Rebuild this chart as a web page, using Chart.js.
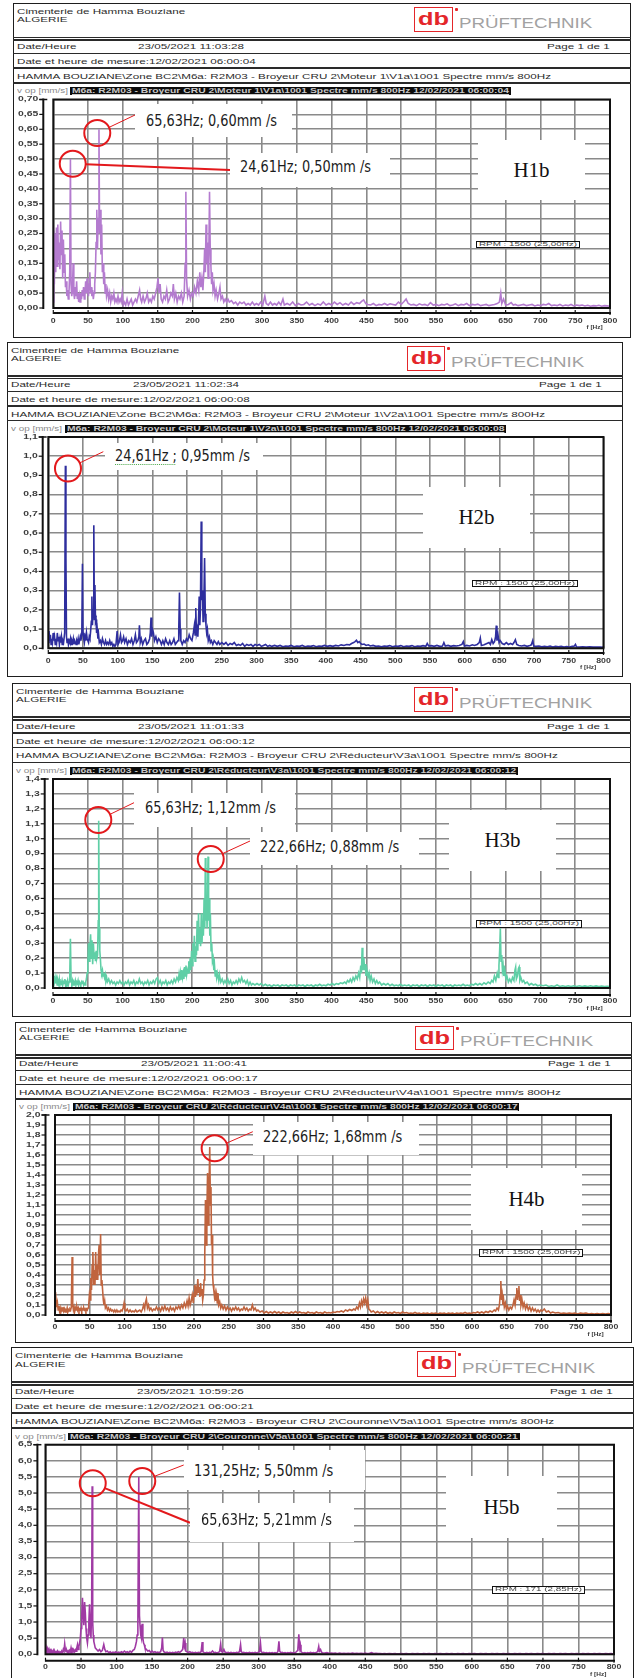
<!DOCTYPE html>
<html><head><meta charset="utf-8"><title>Spectres H1b-H5b</title>
<script src="https://cdn.jsdelivr.net/npm/chart.js@4.4.1/dist/chart.umd.min.js"></script>
<style>
html,body{margin:0;padding:0;background:#fff}
body{position:relative;width:636px;height:1678px;overflow:hidden;font-family:"Liberation Sans",Arial,Helvetica,sans-serif}
.frame{position:absolute;box-sizing:border-box;border:1.6px solid #1e1e1e}
.hl{position:absolute;height:1.4px;background:#2a2a2a}
.t{position:absolute;white-space:nowrap;font-size:8px;line-height:8px;color:#2b2b2b;transform-origin:0 50%}
.t.g{color:#8a8a8a;font-size:7px;line-height:7px}
.bar{position:absolute;background:#0c0c0c;overflow:hidden}
.bar span{position:absolute;left:2px;top:0;white-space:nowrap;font-size:7px;line-height:7.6px;font-weight:bold;color:#c8c8c8;transform-origin:0 50%;text-decoration:underline}
.logo{position:absolute;box-sizing:border-box;border:1.6px solid #e4262a;background:#fff}
.logo span{position:absolute;left:3px;top:1px;font:bold 19px/20px "Liberation Sans",Arial,sans-serif;color:#e4262a;transform-origin:0 0}
.star{position:absolute;width:3px;height:3px;background:#e4262a;border-radius:1px}
.pruf{position:absolute;white-space:nowrap;font-size:14px;line-height:14px;color:#a2a2a2;transform-origin:0 50%}
canvas{position:absolute}
.wbox{position:absolute;background:#fff}
.ann{position:absolute;white-space:nowrap;font-family:"Liberation Sans Narrow","DejaVu Sans Condensed",sans-serif;font-size:15px;line-height:15px;color:#1c1c1c;transform-origin:0 50%}
.ann .ul{text-decoration:underline dotted #4aa84a;text-decoration-thickness:1px;text-underline-offset:3px}
.hlab{position:absolute;background:#fff;display:flex;align-items:center;justify-content:center;font-family:"Liberation Serif","Times New Roman",serif;font-size:21px;color:#111}
.rpm{position:absolute;box-sizing:border-box;border:1.4px solid #111;background:#fff;overflow:hidden}
.rpm span{position:absolute;left:2px;top:0;white-space:nowrap;font-size:5px;line-height:5px;color:#444;transform-origin:0 0}
</style></head><body>
<script>
// ---------------- DATA ----------------
const X_LABELS = ['0','50','100','150','200','250','300','350','400','450','500','550','600','650','700','750','800'];
const H1_Y_LABELS = ['0,00','0,05','0,10','0,15','0,20','0,25','0,30','0,35','0,40','0,45','0,50','0,55','0,60','0,65','0,70'];
const H2_Y_LABELS = ['0,0','0,1','0,2','0,3','0,4','0,5','0,6','0,7','0,8','0,9','1,0','1,1'];
const H3_Y_LABELS = ['0,0','0,1','0,2','0,3','0,4','0,5','0,6','0,7','0,8','0,9','1,0','1,1','1,2','1,3','1,4'];
const H4_Y_LABELS = ['0,0','0,1','0,2','0,3','0,4','0,5','0,6','0,7','0,8','0,9','1,0','1,1','1,2','1,3','1,4','1,5','1,6','1,7','1,8','1,9','2,0'];
const H5_Y_LABELS = ['0,0','0,5','1,0','1,5','2,0','2,5','3,0','3,5','4,0','4,5','5,0','5,5','6,0','6,5'];

const PANEL_NAMES = ['H1b','H2b','H3b','H4b','H5b'];
const DATES_HEURE = ['23/05/2021 11:03:28','23/05/2021 11:02:34','23/05/2021 11:01:33','23/05/2021 11:00:41','23/05/2021 10:59:26'];
const DATES_MESURE = ['12/02/2021 06:00:04','12/02/2021 06:00:08','12/02/2021 06:00:12','12/02/2021 06:00:17','12/02/2021 06:00:21'];
const MEAS_POINTS = ['Moteur 1\\V1a','Moteur 1\\V2a','Réducteur\\V3a','Réducteur\\V4a','Couronne\\V5a'];
const RPM_TEXTS = ['RPM : 1500 (25,00Hz)','RPM : 1500 (25,00Hz)','RPM : 1500 (25,00Hz)','RPM : 1500 (25,00Hz)','RPM : 171 (2,85Hz)'];

// annotated peaks [Hz, mm/s]
const H1_PEAKS = [[65.63,0.60],[24.61,0.50]];
const H2_PEAKS = [[24.61,0.95]];
const H3_PEAKS = [[65.63,1.12],[222.66,0.88]];
const H4_PEAKS = [[222.66,1.68]];
const H5_PEAKS = [[65.63,5.21],[131.25,5.50]];

// spectra [Hz, mm/s]
const H1_SPECTRUM = [[0,0.02],[0.8,0.26],[1.5,0.08],[2.5,0.25],[3.5,0.12],[4.5,0.27],[5.5,0.14],[6.5,0.28],[7.5,0.16],[8.5,0.22],[9.5,0.13],[10.5,0.29],[11.5,0.18],[12.5,0.26],[13.5,0.1],[14.5,0.23],[15.5,0.12],[16.5,0.18],[17.5,0.07],[18.5,0.09],[19.5,0.04],[20.5,0.06],[21.5,0.03],[22.5,0.05],[23.6,0.12],[24.61,0.50],[25.5,0.08],[26.5,0.04],[27.5,0.06],[28.5,0.15],[29.5,0.05],[30.5,0.03],[31.5,0.07],[32.5,0.04],[33.5,0.09],[34.5,0.03],[35.5,0.05],[36.5,0.02],[37.5,0.04],[38.5,0.02],[39.5,0.05],[40.5,0.03],[41.5,0.06],[42.5,0.04],[43.5,0.07],[44.5,0.03],[45.5,0.05],[46.5,0.09],[47.5,0.05],[48.5,0.1],[49.5,0.06],[50.5,0.04],[51.5,0.08],[52.5,0.12],[53.5,0.05],[54.5,0.07],[55.5,0.04],[56.5,0.06],[57.5,0.03],[58.5,0.05],[59.5,0.08],[60.5,0.12],[61.5,0.22],[62.5,0.33],[63.5,0.2],[64.5,0.3],[65.63,0.60],[66.5,0.25],[67.5,0.33],[68.5,0.18],[69.5,0.28],[70.5,0.12],[71.5,0.15],[72.5,0.08],[73.5,0.12],[74.5,0.05],[75.5,0.08],[76.5,0.04],[78,0.06],[79.5,0.03],[81,0.05],[82.5,0.02],[84,0.04],[85.5,0.03],[87,0.05],[88.5,0.02],[90,0.03],[91.5,0.02],[93,0.04],[94.5,0.02],[96,0.03],[97.5,0.02],[99,0.05],[100.5,0.01],[102,0.02],[104,0.01],[106,0.03],[108,0.01],[110,0.02],[112,0.03],[114,0.01],[116,0.02],[118,0.03],[120,0.02],[122,0.04],[124,0.06],[125.5,0.03],[127,0.02],[129,0.04],[131,0.02],[133,0.03],[135,0.05],[137,0.02],[139,0.03],[141,0.02],[143,0.04],[145,0.03],[147,0.05],[149,0.07],[150.5,0.10],[152,0.05],[153.5,0.08],[155,0.03],[157,0.02],[159,0.04],[161,0.03],[163,0.06],[165,0.02],[167,0.03],[169,0.05],[171,0.04],[172.5,0.08],[174,0.03],[176,0.05],[178,0.02],[180,0.04],[182,0.03],[184,0.05],[186,0.02],[188,0.04],[189.5,0.15],[190.5,0.39],[191.5,0.1],[193,0.04],[195,0.06],[197,0.03],[199,0.05],[201,0.04],[203,0.07],[205,0.05],[207,0.09],[209,0.06],[210.5,0.12],[212,0.07],[213.5,0.1],[215,0.06],[216.5,0.13],[217.5,0.2],[218.5,0.12],[219.5,0.28],[220.5,0.15],[221.5,0.22],[222.5,0.10],[223.5,0.18],[224.5,0.39],[225.5,0.2],[226.5,0.14],[227.5,0.08],[228.5,0.12],[229.5,0.06],[231,0.08],[232.5,0.04],[234,0.06],[236,0.03],[238,0.05],[239.5,0.07],[241,0.03],[243,0.04],[245,0.02],[247,0.03],[249,0.02],[251,0.03],[253,0.02],[256,0.025],[259,0.015],[262,0.02],[265,0.01],[268,0.02],[271,0.015],[274,0.02],[277,0.01],[280,0.015],[283,0.01],[286,0.02],[289,0.01],[292,0.015],[295,0.01],[298,0.02],[301,0.01],[304,0.04],[306,0.015],[309,0.01],[312,0.02],[315,0.01],[318,0.015],[321,0.01],[324,0.02],[327,0.01],[330,0.03],[332,0.01],[336,0.015],[340,0.01],[344,0.02],[348,0.008],[352,0.015],[356,0.01],[360,0.012],[364,0.02],[368,0.01],[372,0.015],[376,0.008],[380,0.014],[384,0.01],[388,0.02],[392,0.01],[396,0.015],[400,0.01],[404,0.02],[408,0.012],[412,0.018],[416,0.01],[420,0.015],[424,0.01],[428,0.02],[432,0.012],[436,0.018],[440,0.015],[443,0.022],[446,0.027],[449,0.015],[452,0.012],[456,0.01],[460,0.015],[464,0.008],[468,0.012],[472,0.01],[476,0.015],[480,0.01],[484,0.014],[488,0.012],[492,0.01],[496,0.02],[500,0.012],[504,0.022],[507,0.03],[510,0.015],[514,0.01],[518,0.012],[522,0.008],[526,0.014],[530,0.01],[534,0.012],[538,0.008],[542,0.018],[546,0.01],[550,0.012],[554,0.008],[558,0.012],[562,0.01],[566,0.014],[570,0.008],[574,0.01],[578,0.014],[582,0.008],[586,0.012],[590,0.01],[594,0.015],[598,0.008],[602,0.012],[606,0.01],[610,0.013],[614,0.008],[618,0.01],[622,0.012],[626,0.008],[630,0.01],[634,0.012],[638,0.015],[641,0.02],[643,0.05],[644.5,0.015],[647,0.03],[650,0.01],[654,0.012],[658,0.018],[661,0.01],[664,0.012],[668,0.008],[672,0.01],[676,0.012],[680,0.008],[684,0.01],[688,0.012],[692,0.007],[696,0.01],[700,0.008],[704,0.012],[708,0.01],[712,0.015],[716,0.008],[720,0.01],[724,0.008],[728,0.012],[732,0.007],[736,0.01],[740,0.008],[744,0.012],[748,0.007],[752,0.01],[756,0.008],[760,0.01],[764,0.007],[768,0.009],[772,0.006],[776,0.008],[780,0.007],[784,0.009],[788,0.006],[792,0.008],[796,0.007],[800,0.006]];

const H2_SPECTRUM = [[0,0.03],[1,0.09],[2,0.04],[3,0.07],[4,0.02],[5,0.05],[6,0.03],[7,0.08],[8,0.04],[9,0.06],[10,0.02],[11,0.05],[12,0.03],[13,0.08],[14,0.04],[15,0.06],[16,0.02],[17,0.05],[18,0.03],[19,0.06],[20,0.02],[21,0.04],[22,0.03],[23.6,0.08],[24.61,0.95],[25.4,0.47],[26.2,0.06],[27,0.03],[28,0.05],[29,0.02],[30,0.04],[31,0.03],[32,0.05],[33,0.02],[34,0.04],[35,0.03],[36,0.05],[37,0.02],[38,0.04],[39,0.03],[40,0.02],[41,0.04],[42,0.03],[43,0.05],[44,0.02],[45,0.04],[46,0.06],[47,0.04],[48.3,0.08],[49.2,0.44],[50,0.08],[51,0.05],[52,0.03],[53,0.06],[54,0.04],[55,0.08],[56,0.05],[57,0.04],[58,0.03],[59,0.06],[60,0.05],[61,0.09],[62,0.14],[62.8,0.27],[63.6,0.12],[64.6,0.2],[65.6,0.64],[66.4,0.15],[67.2,0.33],[68,0.14],[68.8,0.15],[69.6,0.08],[70.5,0.1],[71.5,0.05],[72.5,0.07],[73.5,0.03],[75,0.04],[76.5,0.02],[78,0.05],[79.5,0.03],[81,0.02],[82.5,0.04],[84,0.02],[85.5,0.03],[87,0.02],[88.5,0.04],[90,0.02],[91.5,0.03],[93,0.01],[94.5,0.02],[96,0.01],[97.5,0.02],[99.2,0.09],[100.5,0.02],[102,0.03],[104,0.07],[105.5,0.03],[107,0.04],[108.5,0.06],[110,0.03],[112,0.05],[114,0.02],[116,0.04],[118,0.03],[120,0.05],[122,0.02],[124,0.04],[125.5,0.07],[127,0.03],[129,0.04],[130.5,0.06],[131.3,0.12],[132.5,0.03],[134,0.05],[136,0.02],[138,0.04],[140,0.05],[142,0.02],[144,0.03],[146,0.05],[147,0.08],[148,0.16],[149,0.06],[150,0.1],[151.5,0.08],[153,0.04],[155,0.06],[157,0.03],[159,0.05],[161,0.04],[163,0.02],[165,0.04],[167,0.02],[169,0.05],[171,0.03],[173,0.02],[175,0.04],[177,0.02],[179,0.03],[181,0.05],[183,0.02],[185,0.03],[187,0.04],[188,0.1],[189,0.29],[190,0.1],[191,0.04],[193,0.02],[195,0.04],[197,0.03],[199,0.05],[201,0.04],[203,0.07],[205,0.05],[207,0.04],[209,0.08],[210.5,0.12],[211.5,0.07],[212.5,0.21],[213.5,0.08],[214.5,0.1],[215.5,0.06],[216.5,0.15],[217.4,0.27],[218.3,0.12],[219.2,0.2],[220.3,0.66],[221.2,0.25],[222.1,0.3],[223,0.14],[224,0.2],[225.2,0.47],[226.2,0.18],[227.2,0.12],[228.2,0.08],[229.2,0.1],[230.5,0.04],[232,0.06],[233.5,0.03],[235,0.04],[237,0.02],[239,0.04],[241,0.03],[243,0.02],[245,0.035],[247,0.02],[250,0.03],[253,0.02],[256,0.03],[259,0.015],[262,0.025],[265,0.02],[268,0.03],[271,0.015],[274,0.02],[277,0.015],[280,0.025],[283,0.01],[286,0.02],[289,0.015],[292,0.02],[295,0.01],[298,0.02],[301,0.015],[304,0.02],[307,0.01],[310,0.015],[313,0.02],[316,0.01],[319,0.015],[322,0.01],[326,0.015],[330,0.01],[334,0.015],[338,0.008],[342,0.012],[346,0.01],[350,0.015],[354,0.008],[358,0.012],[362,0.01],[366,0.015],[370,0.008],[374,0.012],[378,0.01],[382,0.014],[386,0.008],[390,0.012],[394,0.01],[398,0.015],[402,0.01],[406,0.014],[410,0.01],[414,0.015],[418,0.012],[422,0.018],[426,0.015],[430,0.02],[434,0.018],[437,0.025],[440,0.03],[442,0.035],[444,0.042],[446,0.03],[448,0.035],[450,0.025],[452,0.02],[455,0.022],[458,0.015],[461,0.018],[464,0.012],[468,0.015],[472,0.01],[476,0.012],[480,0.008],[484,0.012],[488,0.01],[492,0.014],[496,0.008],[500,0.012],[504,0.01],[508,0.014],[512,0.008],[516,0.012],[520,0.01],[524,0.014],[528,0.008],[532,0.012],[536,0.01],[540,0.014],[544,0.01],[546,0.025],[548,0.012],[552,0.014],[556,0.01],[560,0.015],[564,0.01],[568,0.012],[570,0.03],[572,0.012],[576,0.015],[580,0.01],[584,0.014],[588,0.012],[592,0.015],[596,0.02],[598,0.035],[599.5,0.012],[603,0.015],[607,0.012],[611,0.018],[614,0.015],[618,0.02],[621,0.03],[622.5,0.053],[624,0.015],[628,0.018],[632,0.025],[635,0.03],[637,0.02],[639,0.045],[641,0.025],[643,0.035],[644.5,0.06],[645.5,0.118],[646.5,0.04],[648,0.07],[649.5,0.03],[651,0.04],[654,0.025],[657,0.02],[660,0.03],[663,0.02],[666,0.025],[669,0.02],[671,0.03],[673,0.045],[675,0.02],[678,0.015],[682,0.012],[686,0.015],[690,0.01],[694,0.015],[696,0.018],[698,0.04],[699.5,0.012],[703,0.01],[707,0.012],[711,0.008],[715,0.01],[719,0.008],[723,0.012],[727,0.007],[731,0.01],[735,0.008],[739,0.01],[743,0.007],[747,0.009],[751,0.007],[755,0.01],[758,0.012],[759.6,0.02],[761,0.008],[765,0.007],[770,0.008],[775,0.006],[780,0.008],[785,0.006],[790,0.007],[795,0.006],[800,0.005]];

const H3_SPECTRUM = [[0,0.03],[1,0.08],[2,0.04],[3,0.07],[4,0.03],[5,0.06],[6,0.02],[7,0.05],[8,0.03],[9,0.06],[10,0.02],[11,0.04],[12,0.03],[13,0.05],[14,0.02],[15,0.04],[16,0.03],[17,0.06],[18,0.02],[19,0.04],[20,0.03],[21,0.05],[22,0.02],[23,0.04],[24,0.06],[25,0.33],[26,0.05],[27,0.03],[28,0.05],[29,0.02],[30,0.04],[31,0.03],[32,0.05],[33,0.02],[34,0.04],[35,0.03],[36,0.05],[37,0.02],[38,0.04],[39,0.03],[40,0.02],[41,0.04],[42,0.03],[43,0.05],[44,0.02],[45,0.03],[46,0.02],[47,0.04],[48,0.06],[49,0.1],[50,0.15],[51,0.3],[52,0.18],[53,0.28],[54,0.36],[55,0.2],[56,0.32],[57,0.16],[58,0.3],[59,0.2],[60,0.24],[61,0.18],[62,0.25],[63,0.2],[64,0.22],[65,0.45],[65.63,1.12],[66.4,0.4],[67.2,0.25],[68,0.2],[69,0.12],[70,0.1],[71,0.12],[72,0.08],[73,0.1],[74,0.07],[75,0.09],[76,0.05],[77,0.07],[78,0.04],[80,0.06],[82,0.03],[84,0.05],[86,0.03],[88,0.04],[90,0.02],[92,0.04],[94,0.03],[96,0.05],[98,0.03],[100,0.04],[102,0.02],[104,0.04],[106,0.03],[108,0.05],[110,0.02],[112,0.04],[114,0.03],[116,0.05],[118,0.02],[120,0.04],[122,0.03],[124,0.06],[126,0.03],[128,0.04],[130,0.02],[132,0.04],[134,0.03],[136,0.05],[138,0.02],[140,0.04],[142,0.03],[144,0.05],[146,0.03],[148,0.06],[150,0.07],[152,0.03],[154,0.05],[156,0.02],[158,0.04],[160,0.03],[162,0.05],[164,0.02],[166,0.04],[168,0.03],[170,0.05],[172,0.03],[174,0.06],[176,0.04],[178,0.07],[180,0.05],[181,0.09],[182,0.05],[183,0.1],[184,0.06],[185,0.12],[186,0.07],[187,0.1],[188,0.06],[189,0.14],[190,0.08],[191,0.15],[192,0.09],[193,0.12],[194,0.1],[195,0.18],[196,0.1],[197,0.2],[198,0.12],[199,0.25],[200,0.15],[201,0.3],[202,0.2],[203,0.35],[204,0.18],[205,0.28],[206,0.22],[207,0.45],[208,0.25],[209,0.5],[210,0.3],[211,0.4],[212,0.28],[213,0.5],[214,0.3],[215,0.45],[216,0.35],[217,0.6],[218,0.4],[218.8,0.87],[219.6,0.45],[220.5,0.55],[221.3,0.4],[222.66,0.88],[223.5,0.45],[224.3,0.6],[225.2,0.35],[226,0.5],[227,0.25],[228,0.3],[229,0.18],[230,0.2],[231,0.12],[232,0.15],[233,0.08],[234,0.12],[235,0.07],[236,0.1],[238,0.05],[239,0.09],[241,0.04],[243,0.06],[245,0.03],[247,0.05],[249,0.03],[251,0.06],[253,0.03],[255,0.05],[257,0.02],[259,0.04],[261,0.03],[263,0.05],[265,0.03],[267,0.06],[269,0.04],[271,0.07],[273,0.04],[275,0.05],[277,0.03],[279,0.05],[281,0.02],[283,0.04],[285,0.02],[287,0.03],[290,0.02],[293,0.03],[296,0.02],[299,0.03],[302,0.015],[305,0.025],[308,0.015],[311,0.02],[314,0.01],[317,0.02],[320,0.015],[323,0.02],[326,0.01],[329,0.02],[332,0.015],[335,0.02],[338,0.01],[341,0.02],[344,0.015],[347,0.02],[350,0.01],[353,0.02],[356,0.015],[359,0.02],[362,0.01],[365,0.02],[368,0.015],[371,0.02],[374,0.01],[377,0.02],[380,0.015],[383,0.025],[386,0.015],[389,0.02],[392,0.015],[395,0.025],[398,0.02],[401,0.03],[404,0.02],[407,0.03],[410,0.025],[413,0.035],[416,0.03],[419,0.04],[421,0.03],[423,0.05],[425,0.04],[427,0.06],[429,0.04],[431,0.07],[433,0.05],[435,0.08],[437,0.06],[439,0.1],[440.5,0.07],[442,0.15],[443,0.1],[444,0.27],[445,0.12],[446.5,0.2],[447.5,0.12],[448.5,0.16],[449.5,0.08],[451,0.12],[452.5,0.07],[454,0.1],[455.5,0.05],[457,0.08],[459,0.04],[461,0.06],[463,0.03],[465,0.05],[467,0.03],[469,0.04],[472,0.02],[475,0.03],[478,0.02],[481,0.03],[484,0.015],[487,0.025],[490,0.015],[493,0.02],[496,0.015],[499,0.025],[502,0.015],[505,0.02],[508,0.015],[511,0.02],[514,0.01],[517,0.02],[520,0.015],[523,0.02],[526,0.01],[529,0.02],[532,0.015],[535,0.02],[538,0.01],[541,0.02],[544,0.015],[547,0.02],[550,0.01],[553,0.02],[556,0.015],[559,0.02],[562,0.01],[565,0.02],[568,0.015],[571,0.02],[574,0.01],[577,0.02],[580,0.015],[583,0.02],[586,0.015],[589,0.025],[592,0.015],[595,0.02],[598,0.015],[601,0.025],[604,0.02],[607,0.03],[610,0.02],[613,0.03],[616,0.02],[619,0.035],[622,0.025],[625,0.04],[628,0.03],[630,0.05],[632,0.04],[634,0.08],[636,0.05],[638,0.1],[639.5,0.07],[640.5,0.15],[641.5,0.25],[642.5,0.4],[643.5,0.18],[644.5,0.22],[645.5,0.12],[646.5,0.15],[647.5,0.08],[649,0.12],[650.5,0.06],[652,0.08],[654,0.04],[656,0.06],[658,0.04],[660,0.07],[662,0.05],[663.5,0.12],[664.5,0.14],[665.5,0.06],[667,0.08],[668.5,0.13],[669.5,0.14],[670.5,0.05],[672,0.07],[674,0.04],[676,0.05],[678,0.03],[681,0.04],[684,0.02],[687,0.03],[690,0.02],[693,0.025],[696,0.015],[700,0.02],[704,0.015],[708,0.02],[712,0.01],[716,0.015],[720,0.01],[724,0.02],[728,0.01],[732,0.015],[736,0.01],[740,0.015],[744,0.01],[748,0.015],[752,0.01],[756,0.015],[760,0.01],[764,0.014],[768,0.01],[772,0.015],[776,0.01],[780,0.014],[784,0.01],[788,0.013],[792,0.01],[796,0.012],[800,0.01]];

const H4_SPECTRUM = [[0,0.05],[0.7,0.23],[1.5,0.15],[2.5,0.08],[3.5,0.12],[4.5,0.05],[5.5,0.09],[6.5,0.04],[7.5,0.07],[8.5,0.03],[9.5,0.06],[10.5,0.04],[11.5,0.08],[12.5,0.04],[13.5,0.06],[14.5,0.03],[15.5,0.05],[16.5,0.04],[17.5,0.07],[18.5,0.03],[19.5,0.05],[20.5,0.04],[21.5,0.06],[22.5,0.05],[23.5,0.08],[24.6,0.58],[25.5,0.1],[26.5,0.05],[27.5,0.08],[28.5,0.04],[29.5,0.07],[30.5,0.05],[31.5,0.08],[32.5,0.05],[33.5,0.07],[34.5,0.04],[35.5,0.06],[36.5,0.05],[37.5,0.07],[38.5,0.04],[39.5,0.06],[40.5,0.05],[41.5,0.07],[42.5,0.05],[43.5,0.06],[44.5,0.04],[45.5,0.06],[46.5,0.05],[47.5,0.07],[48.5,0.1],[49.5,0.2],[50.5,0.15],[51.5,0.37],[52.5,0.25],[53.5,0.5],[54.5,0.63],[55.5,0.3],[56.5,0.45],[57.5,0.3],[58.5,0.63],[59.5,0.35],[60.5,0.5],[61.5,0.35],[62.5,0.6],[63.5,0.7],[64.5,0.4],[65.6,0.81],[66.5,0.3],[67.5,0.35],[68.5,0.25],[69.5,0.15],[70.5,0.1],[71.5,0.14],[72.5,0.07],[74,0.09],[75.5,0.05],[77,0.07],[78.5,0.04],[80,0.06],[81.5,0.04],[83,0.05],[84.5,0.03],[86,0.05],[87.5,0.03],[89,0.05],[90.5,0.03],[92,0.04],[93.5,0.03],[95,0.05],[96.5,0.04],[98,0.07],[99.4,0.12],[100.5,0.05],[102,0.04],[104,0.06],[106,0.03],[108,0.05],[110,0.03],[112,0.04],[114,0.03],[116,0.05],[118,0.03],[120,0.04],[122,0.05],[124,0.03],[126,0.06],[127.5,0.1],[129,0.06],[130,0.12],[131.5,0.16],[133,0.07],[134.5,0.1],[136,0.05],[138,0.07],[140,0.04],[142,0.06],[144,0.05],[146,0.08],[148,0.05],[150,0.07],[152,0.04],[154,0.08],[156,0.05],[158,0.09],[160,0.05],[162,0.07],[164,0.04],[166,0.08],[168,0.05],[170,0.07],[172,0.04],[174,0.08],[176,0.06],[178,0.09],[180,0.06],[182,0.1],[184,0.07],[186,0.12],[188,0.08],[190,0.14],[191.5,0.09],[193,0.17],[194.5,0.1],[196,0.14],[197.5,0.2],[199,0.12],[200,0.22],[201,0.3],[202,0.18],[203,0.25],[204,0.2],[205.5,0.36],[206.5,0.22],[207.5,0.28],[208.5,0.18],[209.5,0.32],[210.5,0.2],[211.5,0.26],[212.5,0.15],[213.5,0.2],[214.5,0.35],[215.5,0.6],[216.5,1.15],[217.5,0.7],[218.5,1.0],[219.5,1.42],[220.5,0.9],[221.5,1.2],[222.66,1.68],[223.6,1.1],[224.4,1.28],[225.2,0.7],[226,0.8],[226.8,0.4],[227.6,0.3],[228.5,0.25],[229.5,0.18],[230.5,0.22],[231.5,0.14],[232.5,0.2],[233.5,0.12],[234.5,0.22],[235.5,0.1],[237,0.13],[238.5,0.07],[240,0.1],[242,0.06],[244,0.09],[246,0.05],[248,0.08],[250,0.05],[252,0.07],[254,0.04],[256,0.07],[258,0.05],[260,0.08],[262,0.05],[264,0.07],[266,0.04],[268,0.06],[270,0.05],[272,0.08],[274,0.05],[276,0.07],[278,0.04],[280,0.06],[282,0.05],[284,0.1],[286,0.05],[288,0.07],[290,0.04],[292,0.05],[295,0.03],[298,0.04],[301,0.02],[304,0.035],[307,0.02],[310,0.03],[313,0.02],[316,0.035],[319,0.02],[322,0.03],[325,0.015],[328,0.03],[331,0.02],[334,0.025],[337,0.015],[340,0.03],[343,0.02],[346,0.035],[349,0.02],[352,0.03],[355,0.02],[358,0.025],[361,0.015],[364,0.03],[367,0.02],[370,0.025],[373,0.015],[376,0.03],[379,0.02],[382,0.025],[385,0.015],[388,0.03],[391,0.02],[394,0.025],[397,0.02],[400,0.03],[403,0.025],[406,0.035],[409,0.03],[412,0.04],[415,0.03],[418,0.05],[421,0.04],[424,0.055],[427,0.045],[430,0.06],[432,0.05],[434,0.08],[436,0.06],[438,0.12],[439.5,0.08],[441,0.14],[442.5,0.1],[444,0.16],[445.5,0.12],[447,0.17],[448.5,0.1],[450,0.15],[451.5,0.06],[453,0.05],[455,0.03],[458,0.04],[461,0.02],[464,0.035],[467,0.02],[470,0.03],[473,0.02],[476,0.03],[479,0.015],[482,0.025],[485,0.015],[488,0.03],[491,0.02],[494,0.025],[497,0.015],[500,0.03],[503,0.02],[506,0.025],[509,0.015],[512,0.02],[515,0.015],[518,0.025],[521,0.015],[524,0.02],[527,0.01],[530,0.02],[533,0.015],[536,0.02],[539,0.01],[542,0.02],[545,0.015],[548,0.02],[551,0.01],[554,0.02],[557,0.015],[560,0.02],[563,0.01],[566,0.02],[569,0.015],[572,0.02],[575,0.01],[578,0.02],[581,0.015],[584,0.02],[587,0.015],[590,0.025],[593,0.015],[596,0.02],[599,0.015],[602,0.025],[605,0.02],[608,0.03],[611,0.02],[614,0.03],[617,0.02],[620,0.035],[623,0.025],[626,0.04],[629,0.03],[632,0.05],[634,0.04],[636,0.07],[638,0.05],[639.5,0.1],[640.5,0.2],[641.5,0.34],[642.5,0.15],[643.5,0.2],[644.5,0.1],[645.5,0.15],[646.5,0.08],[648,0.12],[649.5,0.06],[651,0.09],[653,0.05],[655,0.08],[657,0.06],[659,0.1],[660.5,0.15],[662,0.1],[663.5,0.2],[664.5,0.27],[665.5,0.15],[666.5,0.24],[667.5,0.29],[668.5,0.14],[669.5,0.2],[670.5,0.1],[672,0.15],[673.5,0.08],[675,0.12],[677,0.06],[679,0.1],[681,0.05],[683,0.08],[685,0.04],[687,0.07],[689,0.04],[691,0.06],[693,0.03],[695,0.05],[697,0.03],[699,0.05],[701,0.04],[704,0.06],[707,0.03],[710,0.04],[713,0.02],[716,0.03],[720,0.02],[724,0.025],[728,0.015],[732,0.02],[736,0.015],[740,0.02],[744,0.015],[748,0.02],[752,0.01],[756,0.02],[760,0.015],[764,0.02],[768,0.01],[772,0.015],[776,0.01],[780,0.015],[784,0.01],[788,0.015],[792,0.01],[796,0.015],[800,0.01]];

const H5_SPECTRUM = [[0,0.08],[1,0.2],[2,0.1],[3,0.18],[4,0.08],[5,0.15],[6,0.06],[7,0.12],[8,0.05],[9,0.1],[10,0.06],[11,0.12],[12,0.05],[13,0.09],[14,0.04],[15,0.08],[16,0.05],[17,0.1],[18,0.05],[19,0.08],[20,0.04],[21,0.07],[22,0.05],[23,0.09],[24,0.06],[25,0.15],[26,0.1],[27,0.32],[28,0.12],[29,0.08],[30,0.12],[31,0.06],[32,0.1],[33,0.05],[34,0.12],[35,0.08],[36,0.2],[37,0.1],[38,0.15],[39,0.07],[40,0.12],[41,0.08],[42,0.14],[43,0.1],[44,0.2],[45,0.3],[46,0.15],[47,0.25],[48,0.35],[49,0.5],[50,0.8],[51,1.2],[52,1.75],[53,1.2],[54,0.9],[55,1.62],[56,1.3],[57,0.8],[58,0.5],[59,0.35],[60,0.6],[61,1.0],[62,1.55],[63,0.8],[64,0.5],[65,1.6],[65.63,5.21],[66.4,1.0],[67.2,0.6],[68,0.4],[69,0.3],[70,0.2],[72,0.15],[74,0.1],[76,0.15],[78,0.08],[80,0.12],[82,0.3],[83.5,0.15],[85,0.08],[87,0.1],[89,0.05],[91,0.08],[93,0.04],[95,0.07],[97,0.05],[99,0.08],[101,0.04],[103,0.07],[105,0.05],[107,0.08],[109,0.05],[111,0.1],[113,0.06],[115,0.08],[117,0.05],[119,0.1],[121,0.06],[123,0.12],[125,0.15],[126.5,0.25],[128,0.4],[129,0.6],[130,1.0],[131.25,5.50],[132.2,1.2],[133,0.9],[134,0.6],[135,0.5],[136,0.95],[137,0.5],[138,0.35],[139,0.3],[140,0.2],[142,0.15],[144,0.1],[146,0.12],[148,0.06],[150,0.1],[152,0.06],[154,0.08],[156,0.05],[158,0.07],[160,0.05],[162,0.08],[163.5,0.2],[164.5,0.52],[165.5,0.12],[167,0.07],[169,0.05],[171,0.07],[173,0.04],[175,0.06],[177,0.04],[179,0.06],[181,0.04],[183,0.07],[185,0.05],[187,0.08],[189,0.06],[191,0.1],[193,0.15],[194.5,0.5],[195.5,0.25],[196.5,0.35],[197.5,0.1],[199,0.08],[201,0.06],[203,0.08],[205,0.05],[207,0.06],[209,0.04],[211,0.06],[213,0.04],[215,0.06],[217,0.05],[219,0.08],[220.5,0.38],[221.5,0.08],[223,0.06],[225,0.04],[227,0.06],[229,0.04],[231,0.06],[233,0.05],[235,0.1],[237,0.05],[239,0.06],[241,0.04],[243,0.06],[245,0.08],[246.5,0.32],[247.5,0.1],[249,0.06],[251,0.15],[252.5,0.07],[255,0.05],[257,0.06],[259,0.04],[261,0.06],[263,0.04],[265,0.05],[267,0.04],[269,0.06],[271,0.05],[273,0.08],[274.5,0.3],[275.5,0.08],[277,0.05],[279,0.06],[281,0.04],[283,0.05],[285,0.04],[287,0.06],[289,0.04],[291,0.05],[293,0.04],[295,0.06],[297,0.04],[299,0.06],[301,0.08],[302.5,0.35],[303.5,0.08],[305,0.05],[307,0.06],[309,0.04],[311,0.05],[313,0.03],[315,0.05],[317,0.04],[319,0.05],[321,0.03],[323,0.05],[325,0.04],[327,0.08],[328.5,0.4],[329.5,0.1],[331,0.05],[333,0.06],[335,0.04],[337,0.05],[339,0.03],[341,0.05],[343,0.04],[345,0.06],[347,0.04],[349,0.05],[351,0.04],[353,0.08],[355,0.12],[356.5,0.62],[357.5,0.2],[358.5,0.3],[359.5,0.08],[361,0.06],[363,0.04],[365,0.05],[367,0.03],[369,0.05],[371,0.04],[373,0.06],[375,0.04],[377,0.05],[379,0.04],[381,0.06],[383,0.08],[384.5,0.24],[385.5,0.1],[387,0.15],[388.5,0.06],[390,0.05],[393,0.04],[396,0.05],[399,0.03],[402,0.04],[405,0.03],[408,0.04],[411,0.02],[414,0.035],[417,0.02],[420,0.03],[423,0.02],[426,0.03],[429,0.02],[432,0.035],[435,0.02],[438,0.03],[441,0.02],[444,0.03],[447,0.02],[450,0.04],[453,0.02],[456,0.03],[459,0.05],[462,0.02],[465,0.03],[468,0.02],[471,0.025],[474,0.015],[477,0.025],[480,0.015],[484,0.025],[488,0.015],[492,0.02],[496,0.01],[500,0.02],[504,0.015],[508,0.02],[512,0.01],[516,0.02],[520,0.015],[524,0.02],[528,0.01],[532,0.02],[536,0.015],[540,0.02],[544,0.01],[548,0.02],[552,0.015],[556,0.02],[560,0.01],[564,0.02],[568,0.015],[572,0.02],[576,0.01],[580,0.02],[584,0.015],[588,0.02],[592,0.01],[596,0.02],[600,0.015],[604,0.02],[608,0.01],[612,0.02],[616,0.015],[620,0.02],[624,0.01],[628,0.02],[632,0.015],[636,0.02],[640,0.01],[644,0.02],[648,0.015],[652,0.02],[656,0.01],[660,0.02],[664,0.015],[668,0.02],[672,0.01],[676,0.02],[680,0.015],[684,0.02],[688,0.01],[692,0.02],[696,0.015],[700,0.02],[704,0.01],[708,0.02],[712,0.015],[716,0.02],[720,0.01],[724,0.02],[728,0.015],[732,0.02],[736,0.01],[740,0.02],[744,0.015],[748,0.02],[752,0.01],[756,0.02],[760,0.015],[764,0.02],[768,0.01],[772,0.02],[776,0.015],[780,0.02],[784,0.01],[788,0.02],[792,0.015],[796,0.02],[800,0.01]];

const SPECTRA = [H1_SPECTRUM, H2_SPECTRUM, H3_SPECTRUM, H4_SPECTRUM, H5_SPECTRUM];
const PEAKS = [H1_PEAKS, H2_PEAKS, H3_PEAKS, H4_PEAKS, H5_PEAKS];
const Y_LABELS = [H1_Y_LABELS, H2_Y_LABELS, H3_Y_LABELS, H4_Y_LABELS, H5_Y_LABELS];

// ---------------- LAYOUT / STYLE ----------------
const COLORS = ['#b47bcf','#2e2e9e','#5fcfa6','#c0643e','#a03aa4'];
const LAYOUT = [
 {L:12.7,R:631,T:2.7,B:338,pl:53.3,pr:610,pt:99.5,pb:308,ax:43.3,xa:313,xl:321,barR:511,
  ann:[{p:0,box:[135,104,292,137],tx:146,ty:121,a:[135,115],lw:1,dx:-1.7,dy:3.7},
       {p:1,box:[230,153,390,187],tx:240,ty:167,a:[230,170],lw:2,dx:2.3,dy:4.7}],
  hb:[478,140,585,200], rpm:[476,240.5,580,247.5]},
 {L:7.3,R:623.3,T:341.7,B:677,pl:48.3,pr:603.5,pt:437,pb:648.3,ax:42.7,xa:653,xl:661,barR:506,
  ann:[{p:0,box:[105,443,263,470],tx:115,ty:456,a:[103.3,451.7],lw:1,dx:2.6,dy:2.7,sep:' ; ',ul:true}],
  hb:[423,487,530,548], rpm:[472,580,578,587]},
 {L:12.2,R:631,T:682.7,B:1017.3,pl:53,pr:610,pt:779,pb:988,ax:44.7,xa:995,xl:1001.7,barR:517.7,
  ann:[{p:0,box:[134,793,295,827],tx:145,ty:808,a:[134,802.7],lw:1,dx:-0.4,dy:-0.8},
       {p:1,box:[250,832,419,865],tx:260,ty:847,a:[250,841],lw:1,dx:2.7,dy:2.4}],
  hb:[449,810,556,871], rpm:[476,920,582,927.5]},
 {L:15.4,R:632,T:1021.7,B:1343,pl:55,pr:611,pt:1115,pb:1315,ax:45.5,xa:1321,xl:1327.3,barR:519.5,
  ann:[{p:0,box:[253,1122,419,1155],tx:263.4,ty:1137,a:[252.8,1131.7],lw:1,dx:4.9,dy:1.3}],
  hb:[471,1168,582,1230], rpm:[478.5,1249,583,1257]},
 {L:11,R:634,T:1347.3,B:1690,pl:45.5,pr:614,pt:1444.7,pb:1654.3,ax:37.4,xa:1660.7,xl:1667.3,barR:520,
  ann:[{p:1,box:[184,1450,365,1490],tx:194.3,ty:1471,a:[183.7,1465],lw:1,dx:3.5,dy:4.1},
       {p:0,box:[190,1503,354,1542],tx:201,ty:1520,a:[190,1522.7],lw:2,dx:0.6,dy:-3}],
  hb:[446,1476,557,1538], rpm:[492,1586,585,1593.5]}
];

function mk(tag, cls, css, text, parent){
  const e = document.createElement(tag);
  if (cls) e.className = cls;
  for (const k in css) e.style[k] = (typeof css[k] === 'number') ? css[k] + 'px' : css[k];
  if (text != null) e.textContent = text;
  (parent || document.body).appendChild(e);
  return e;
}
const fmt = (v, d) => v.toFixed(d).replace('.', ',');
const headerTexts = [];
function htext(x, cy, s, gray, right){
  const e = mk('div', 't' + (gray ? ' g' : ''), {left:x, top:cy - 4}, s);
  if (!gray) headerTexts.push({e, right, x});
  return e;
}
function fitTo(e, target){
  const w = e.getBoundingClientRect().width;
  e.style.transform = 'scaleX(' + (target / w) + ')';
  return target / w;
}

const charts = [];
LAYOUT.forEach((P, i) => {
  const k = (P.pt - P.T) / 96.6;
  const Y = v => P.T + v * k;
  mk('div', 'frame', {left:P.L, top:P.T, width:P.R - P.L, height:P.B - P.T});
  [34.6, 37.4, 50.6, 65.2, 80].forEach(v => mk('div', 'hl', {left:P.L, top:Y(v) - 0.7, width:P.R - P.L}));
  htext(P.L + 4, Y(9), 'Cimenterie de Hamma Bouziane');
  htext(P.L + 4, Y(17.3), 'ALGERIE');
  htext(P.L + 4, Y(44), 'Date/Heure');
  htext(P.L + 125.6, Y(44), DATES_HEURE[i]);
  htext(0, Y(44), 'Page 1 de 1', false, P.R - 21.7);
  htext(P.L + 4, Y(59.3), 'Date et heure de mesure:' + DATES_MESURE[i]);
  const path = htext(P.L + 4, Y(74), 'HAMMA BOUZIANE\\Zone BC2\\M6a: R2M03 - Broyeur CRU 2\\' + MEAS_POINTS[i] + '\\1001 Spectre mm/s 800Hz');
  if (i === 0) path.dataset.ref = '1';
  const vop = htext(P.L + 4, Y(88) + 0.5, 'v op [mm/s]', true);
  fitTo(vop, 51);
  const bx = P.L + 57.3, bw = P.barR - bx;
  const bar = mk('div', 'bar', {left:bx, top:Y(84.6), width:bw, height:Y(92.3) - Y(84.6)});
  const bs = mk('span', '', {}, 'M6a: R2M03 - Broyeur CRU 2\\' + MEAS_POINTS[i] + '\\1001 Spectre mm/s 800Hz ' + DATES_MESURE[i], bar);
  fitTo(bs, bw - 4);
  // logo
  const lg = mk('div', 'logo', {left:P.R - 216.7, top:Y(4), width:38.4, height:25.6 * k});
  const db = mk('span', '', {}, 'db', lg);
  fitTo(db, 31);
  mk('div', 'star', {left:P.R - 176.5, top:Y(5.3)});
  const pf = mk('div', 'pruf', {left:P.R - 172.3, top:Y(20.1) - 7}, 'PRÜFTECHNIK');
  fitTo(pf, 133.3);

  // chart canvas
  const cL = Math.round(P.L + 2), cT = Math.round(P.pt - 7);
  const cB = Math.min(1678, Math.round(P.B - 2)), cR = Math.round(P.R - 2);
  const cv = mk('canvas', '', {left:cL, top:cT, width:cR - cL, height:cB - cT});
  cv.width = cR - cL; cv.height = cB - cT;
  const yVals = Y_LABELS[i].map(s => parseFloat(s.replace(',', '.')));
  const xVals = X_LABELS.map(Number);
  charts.push(new Chart(cv, {
    type:'line',
    data:{datasets:[{
      data: SPECTRA[i].map(([f, v]) => ({x:f, y:v})),
      borderColor: COLORS[i], borderWidth: 1.6, pointRadius: 0, tension: 0, fill: false
    }]},
    options:{
      responsive:false, animation:false, parsing:false, events:[],
      layout:{padding:{left:P.pl - cL, right:cR - P.pr, top:P.pt - cT, bottom:cB - P.pb}},
      scales:{
        x:{type:'linear', min:0, max:800,
           afterBuildTicks: s => { s.ticks = xVals.map(v => ({value:v})); },
           afterFit: s => { s.height = 0; },
           ticks:{display:false}, border:{display:false},
           grid:{color:'#8a8a8a', lineWidth:1.6, drawTicks:false}},
        y:{type:'linear', min:0, max:yVals[yVals.length - 1],
           afterBuildTicks: s => { s.ticks = yVals.map(v => ({value:v})); },
           afterFit: s => { s.width = 0; },
           ticks:{display:false}, border:{display:false},
           grid:{color:'#8a8a8a', lineWidth:1.6, drawTicks:false}}
      },
      plugins:{legend:{display:false}, tooltip:{enabled:false}, pruf:{i, cx:cL, cy:cT}}
    },
    plugins:[{
      id:'pruf',
      afterDraw(chart, args, o){
        const Lp = LAYOUT[o.i], ctx = chart.ctx, a = chart.chartArea;
        const xs = chart.scales.x, ys = chart.scales.y;
        const line = (x1, y1, x2, y2) => { ctx.beginPath(); ctx.moveTo(x1, y1); ctx.lineTo(x2, y2); ctx.stroke(); };
        const sText = (s, x, y, sx, align) => { ctx.save(); ctx.translate(x, y); ctx.scale(sx, 1); ctx.textAlign = align; ctx.fillText(s, 0, 0); ctx.restore(); };
        ctx.save();
        ctx.strokeStyle = '#111'; ctx.lineWidth = 2;
        ctx.strokeRect(a.left, a.top, a.right - a.left, a.bottom - a.top);
        // y axis
        const labs = Y_LABELS[o.i], vals = labs.map(s => parseFloat(s.replace(',', '.')));
        const ax = Lp.ax - o.cx;
        const yTop = ys.getPixelForValue(vals[vals.length - 1]), yBot = ys.getPixelForValue(0);
        ctx.lineWidth = 2; line(ax, yTop - 1, ax, yBot + 1);
        ctx.lineWidth = 1.5; line(ax - 4, yTop, ax + 4, yTop);
        ctx.lineWidth = 1.2;
        ctx.fillStyle = '#3c3c3c'; ctx.textBaseline = 'middle';
        ctx.font = 'bold 6.5px "Liberation Sans", Arial, sans-serif';
        vals.forEach((v, j) => { const py = ys.getPixelForValue(v); line(ax - 4, py, ax, py); sText(labs[j], ax - 5, py, 1.6, 'right'); });
        // x axis
        const xa = Lp.xa - o.cy;
        ctx.lineWidth = 2; line(xs.getPixelForValue(0), xa, xs.getPixelForValue(800) + 1, xa);
        ctx.lineWidth = 1.2;
        X_LABELS.forEach(s => {
          const v = Number(s), px = xs.getPixelForValue(v), end = v === 800;
          line(px, xa - (end ? 7 : 3), px, xa + (end ? 2 : 1));
          sText(s, px, Lp.xl - o.cy, 1.35, 'center');
        });
        ctx.font = 'bold 5px "Liberation Sans", Arial, sans-serif';
        sText('f [Hz]', xs.getPixelForValue(775) + 2, Lp.xl - o.cy + 7, 1.3, 'center');
        // circles on peaks + connectors
        ctx.strokeStyle = '#e3191c';
        Lp.ann.forEach(an => {
          const [f, v] = PEAKS[o.i][an.p];
          const cx = xs.getPixelForValue(f) + an.dx, cy = ys.getPixelForValue(v) + an.dy;
          ctx.lineWidth = 2; ctx.beginPath(); ctx.arc(cx, cy, 13, 0, Math.PI * 2); ctx.stroke();
          const tx = an.a[0] - o.cx, ty = an.a[1] - o.cy;
          const d = Math.hypot(tx - cx, ty - cy);
          ctx.lineWidth = an.lw;
          line(cx + 13 * (tx - cx) / d, cy + 13 * (ty - cy) / d, tx, ty);
        });
        ctx.restore();
      }
    }]
  }));

  // overlays: annotation boxes, panel label, RPM box
  P.ann.forEach(an => {
    const [f, v] = PEAKS[i][an.p];
    mk('div', 'wbox', {left:an.box[0], top:an.box[1], width:an.box[2] - an.box[0], height:an.box[3] - an.box[1]});
    const t = mk('div', 'ann', {left:an.tx, top:an.ty - 7.5});
    const sep = an.sep || '; ';
    if (an.ul) {
      mk('span', 'ul', {}, fmt(f, 2) + 'Hz' + sep.trimEnd(), t);
      t.appendChild(document.createTextNode(' ' + fmt(v, 2) + 'mm /s'));
    } else {
      t.textContent = fmt(f, 2) + 'Hz' + sep + fmt(v, 2) + 'mm /s';
    }
  });
  mk('div', 'hlab', {left:P.hb[0], top:P.hb[1], width:P.hb[2] - P.hb[0], height:P.hb[3] - P.hb[1]}, PANEL_NAMES[i]);
  const rp = mk('div', 'rpm', {left:P.rpm[0], top:P.rpm[1], width:P.rpm[2] - P.rpm[0], height:P.rpm[3] - P.rpm[1]});
  const rs = mk('span', '', {}, RPM_TEXTS[i], rp);
  fitTo(rs, P.rpm[2] - P.rpm[0] - 6);
});

// uniform horizontal stretch of the header texts (scanned document look)
const ref = headerTexts.find(h => h.e.dataset.ref === '1');
const sH = 534 / ref.e.getBoundingClientRect().width;
headerTexts.forEach(h => {
  const w = h.e.getBoundingClientRect().width;
  h.e.style.transform = 'scaleX(' + sH + ')';
  if (h.right != null) h.e.style.left = (h.right - w * sH) + 'px';
});
// uniform stretch of annotation texts
const anns = [...document.querySelectorAll('.ann')];
const sA = 131 / anns[0].getBoundingClientRect().width;
anns.forEach(a => { a.style.transform = 'scaleX(' + sA + ')'; });
</script>
</body></html>
